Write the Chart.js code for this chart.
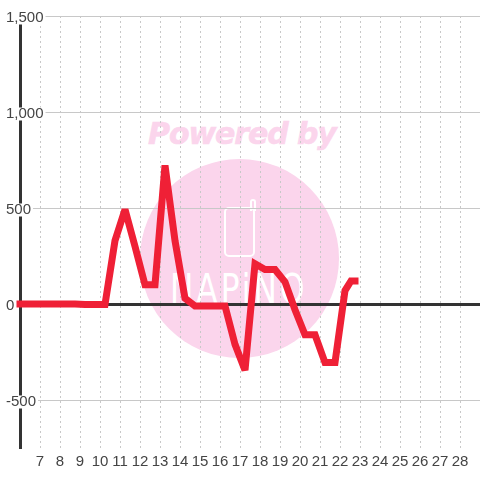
<!DOCTYPE html>
<html>
<head>
<meta charset="utf-8">
<script src="https://cdn.jsdelivr.net/npm/chart.js@4"></script>
<style>
    html, body { margin: 0; padding: 0; background: #fff; }
    #wrap { position: relative; width: 480px; height: 480px; overflow: hidden; }
    #chart { position: absolute; left: 0; top: 0; }
    #disc { position: absolute; left: 140px; top: 159px; width: 199px; height: 199px; border-radius: 50%; background: #fbd5ec; }
    #powered { position: absolute; left: 148px; top: 116px; font: italic bold 30px "DejaVu Sans"; letter-spacing: -1.1px; color: #fbd5ec; -webkit-text-stroke: 0.6px #fbd5ec; white-space: nowrap; }
    #phone { position: absolute; left: 224px; top: 207px; width: 27px; height: 46px; border: 2.5px solid #fff; border-radius: 5px; }
    #antenna { position: absolute; left: 250px; top: 199px; width: 2px; height: 10px; border: 2px solid #fff; border-bottom: 0; border-radius: 3px 3px 0 0; }
    #brand { position: absolute; left: 170px; top: 269px; font: 41px/40px "DejaVu Sans"; letter-spacing: 4px; color: #fff; transform-origin: 0 0; transform: scaleX(0.76); white-space: nowrap; }
</style>
</head>
<body>
<div id="wrap">
    <div id="disc"></div>
    <div id="powered">Powered by</div>
    <div id="phone"></div>
    <div id="antenna"></div>
    <div id="brand">NAPiNO</div>
    <canvas id="chart" width="480" height="480"></canvas>
</div>
<script>
const days = [6, 6.5, 7.25, 7.75, 8.25, 8.75, 9.25, 9.75, 10.25, 10.75, 11.25, 11.75, 12.25, 12.75, 13.25, 13.75, 14.25, 14.75, 15.25, 15.75, 16.25, 16.75, 17.25, 17.75, 18.25, 18.75, 19.25, 19.75, 20.25, 20.75, 21.25, 21.75, 22.25, 22.55, 22.75];
const values = [0, 0, 0, 0, 0, 0, -2, -3, -3, 330, 492, 300, 100, 100, 722, 330, 30, -10, -10, -10, -10, -210, -345, 210, 180, 180, 115, -30, -160, -160, -305, -305, 70, 120, 120];
const xTicks = [7, 8, 9, 10, 11, 12, 13, 14, 15, 16, 17, 18, 19, 20, 21, 22, 23, 24, 25, 26, 27, 28];
const yLabels = [-500, 0, 500, 1000, 1500];

const gridColor = '#c8c8c8';
const axisColor = '#333333';
const textColor = '#444444';

const miterPlugin = {
    id: 'miter',
    beforeDatasetsDraw(chart) {
        //sharp peaks are cut flat in the reference
        chart.ctx.miterLimit = 2;
    },
};

new Chart(document.getElementById('chart').getContext('2d'), {
    type: 'line',
    data: {
        datasets: [{
            data: days.map((d, i) => ({x: d, y: values[i]})),
            borderColor: '#ef2036',
            borderWidth: 7,
            borderCapStyle: 'square',
            borderJoinStyle: 'miter',
            pointRadius: 0,
            tension: 0,
            clip: false,
        }],
    },
    options: {
        responsive: false,
        animation: false,
        layout: {padding: {top: 16}},
        plugins: {legend: {display: false}, tooltip: {enabled: false}},
        scales: {
            x: {
                type: 'linear',
                min: 6,
                max: 29,
                afterFit: (scale) => { scale.height = 32; },
                afterBuildTicks: (scale) => { scale.ticks = xTicks.map((v) => ({value: v})); },
                grid: {color: gridColor, lineWidth: 1, drawTicks: false, tickLength: 0},
                border: {display: false, dash: [2, 3]},
                ticks: {
                    autoSkip: false,
                    maxRotation: 0,
                    padding: 5,
                    color: textColor,
                    font: {family: 'Liberation Sans', size: 15},
                    callback: (v) => String(v),
                },
            },
            y: {
                min: -750,
                max: 1500,
                afterFit: (scale) => { scale.width = 20; },
                border: {display: true, color: axisColor, width: 3},
                grid: {
                    drawTicks: false,
                    tickLength: 0,
                    color: (ctx) => (ctx.tick.value === 0 ? axisColor : gridColor),
                    lineWidth: (ctx) => (ctx.tick.value === 0 ? 3 : 1),
                },
                ticks: {
                    stepSize: 250,
                    autoSkip: false,
                    mirror: true,
                    padding: -14,
                    labelOffset: 2,
                    color: textColor,
                    font: {family: 'Liberation Sans', size: 15, lineHeight: 1},
                    showLabelBackdrop: (ctx) => yLabels.includes(ctx.tick.value),
                    backdropColor: '#ffffff',
                    backdropPadding: {top: -1, bottom: -1, left: 2, right: 2},
                    callback: (v) => (yLabels.includes(v) ? v.toLocaleString('en-US') : null),
                },
            },
        },
    },
    plugins: [miterPlugin],
});
</script>
</body>
</html>
